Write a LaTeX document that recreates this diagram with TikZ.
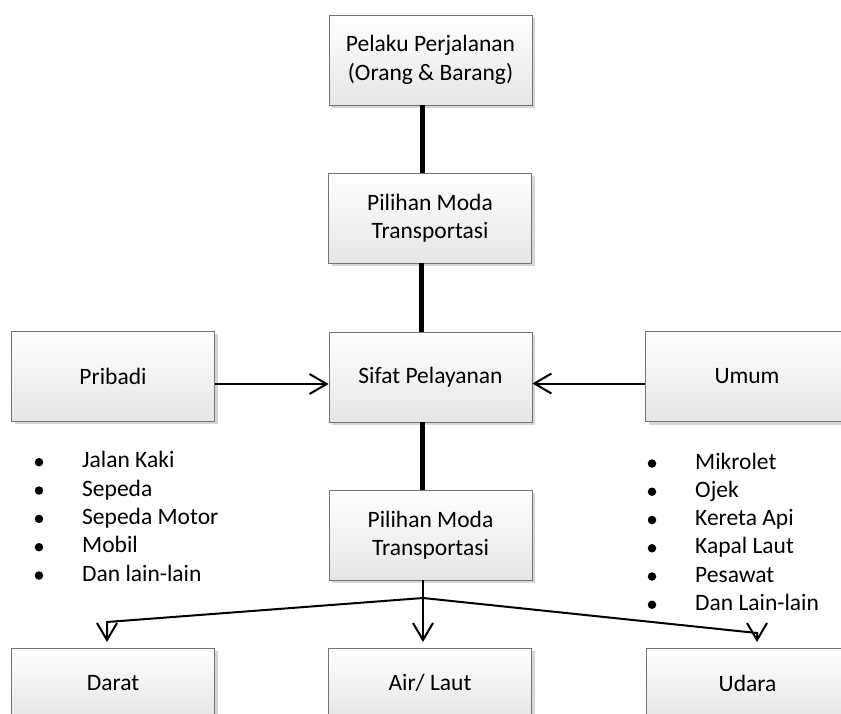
\documentclass[tikz,border=0pt]{standalone}
\usepackage{fontspec}
\setmainfont{Carlito}
\usetikzlibrary{arrows.meta,shadows}
\begin{document}
\begin{tikzpicture}[x=1pt,y=-1pt,
  box/.style={draw=black!55, line width=0.9pt, top color=white, bottom color=black!10,
    minimum width=203pt, minimum height=90pt, inner sep=0pt, align=center,
    font=\fontsize{23.5}{28.5}\selectfont,
    general shadow={fill=black!16, shadow xshift=3pt, shadow yshift=-3pt}},
  lowbox/.style={box, minimum height=70pt},
  thickline/.style={line width=5pt},
  arr/.style={line width=2pt, -{Straight Barb[length=17pt,width=20pt]}},
  plain/.style={line width=2pt},
  bul/.style={circle, fill=black, inner sep=0pt, minimum size=8.5pt},
  item/.style={anchor=base west, inner sep=0pt, font=\fontsize{23.5}{28.5}\selectfont}]
\clip (0,0) rectangle (841,713);
\fill[white] (0,0) rectangle (841,713);

% boxes
\node[box] (pelaku)  at (430.5,60)  {Pelaku Perjalanan\\(Orang \& Barang)};
\node[box] (pil1)    at (430,218)   {Pilihan Moda\\Transportasi};
\node[box] (sifat)   at (430.5,377) {Sifat Pelayanan};
\node[box] (pil2)    at (430.5,535) {Pilihan Moda\\Transportasi};
\node[box] (pribadi) at (113,376)   {Pribadi};
\node[box] (umum)    at (747,376.5) {Umum};
\node[lowbox] (darat)   at (113,683)   {Darat};
\node[lowbox] (air)     at (430,683)   {Air/ Laut};
\node[lowbox] (udara)   at (747.5,683) {Udara};

% thick vertical links
\draw[thickline] ([xshift=-8.5pt]pelaku.south) -- ([xshift=-8.5pt]pelaku.south |- pil1.north);
\draw[thickline] ([xshift=-8.5pt]pil1.south) -- ([xshift=-8.5pt]pil1.south |- sifat.north);
\draw[thickline] ([xshift=-8.5pt]sifat.south) -- ([xshift=-8.5pt]sifat.south |- pil2.north);

% horizontal arrows
\draw[arr] ([yshift=-8pt]pribadi.east) -- ([yshift=-8pt]pribadi.east -| sifat.west);
\draw[arr] ([yshift=-7pt]umum.west) -- ([yshift=-7pt]umum.west -| sifat.east);

% branching arrows
\coordinate (br) at (423,598);
\coordinate (lc) at (107,622);
\coordinate (rc) at (757,633);
\draw[plain] (pil2.south -| br) -- (br);
\draw[arr] (br) -- (lc) -- (lc |- 0,642);
\draw[arr] (br) -- (br |- 0,642);
\draw[arr] (br) -- (rc) -- (rc |- 0,642);

% left list
\foreach \t [count=\i from 0] in {Jalan Kaki, Sepeda, Sepeda Motor, Mobil, Dan lain-lain}{
  \node[bul] (lb\i) at (39,{467.7+28.33*\i-5.5}) {};
  \node[item] (lt\i) at (82,{467.7+28.33*\i}) {\t};
}
% right list
\foreach \t [count=\i from 0] in {Mikrolet, Ojek, Kereta Api, Kapal Laut, Pesawat, Dan Lain-lain}{
  \node[bul] (rb\i) at (652,{469+28.25*\i-5.5}) {};
  \node[item] (rt\i) at (695,{469+28.25*\i}) {\t};
}
\end{tikzpicture}
\end{document}
